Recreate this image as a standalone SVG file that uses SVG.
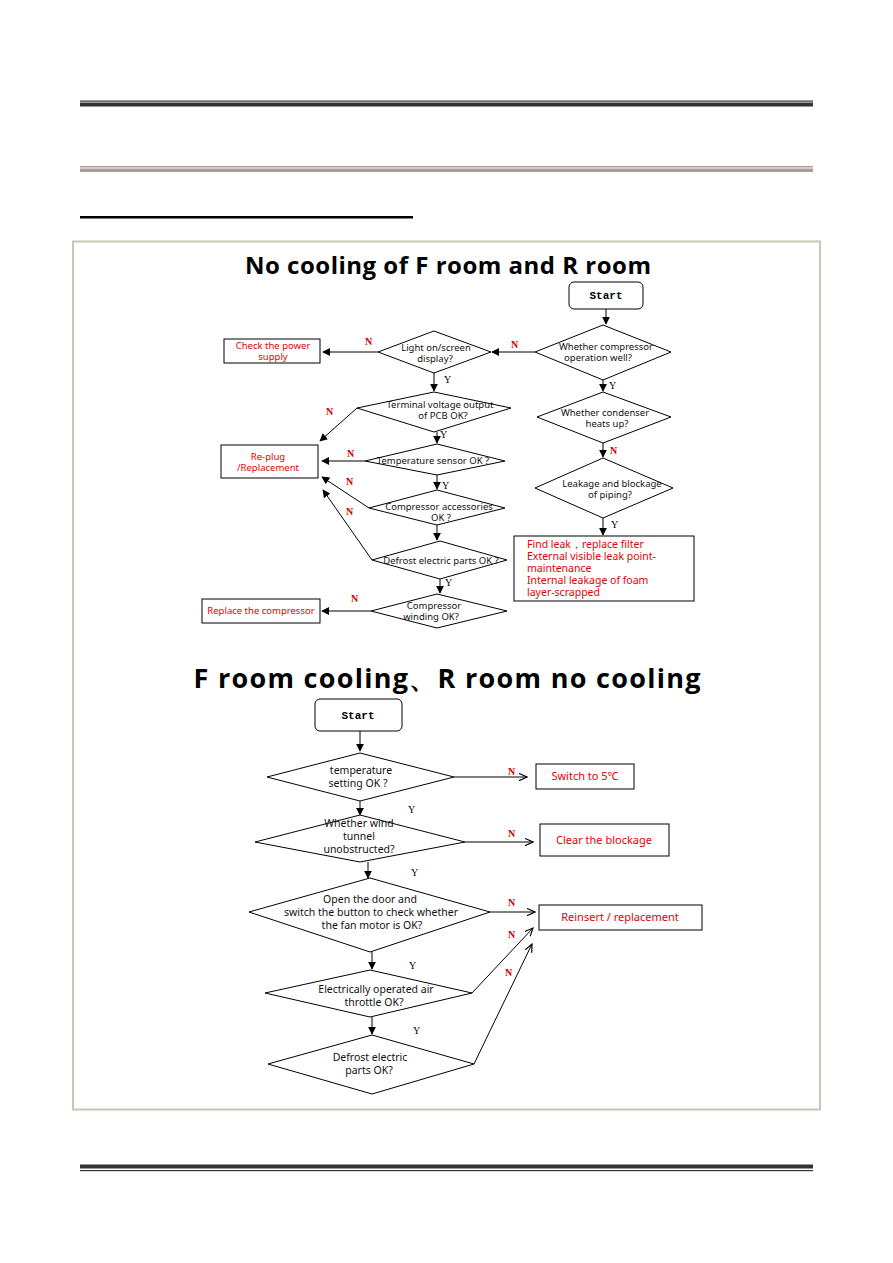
<svg xmlns="http://www.w3.org/2000/svg" width="893" height="1263" viewBox="0 0 893 1263">
<defs>
<marker id="ah" viewBox="0 0 10 10" refX="9" refY="5" markerWidth="8" markerHeight="8" markerUnits="userSpaceOnUse" orient="auto"><path d="M0,0 L10,5 L0,10 z" fill="#000"/></marker>
<marker id="ao" viewBox="0 0 10 10" refX="9" refY="5" markerWidth="9" markerHeight="9" markerUnits="userSpaceOnUse" orient="auto"><path d="M0,1 L9,5 L0,9" fill="none" stroke="#000" stroke-width="1.3"/></marker>
<style>
.sh{fill:#fff;stroke:#000;stroke-width:1}
.t{font-family:"Noto Sans","Open Sans",sans-serif;font-size:9.5px;fill:#111;text-anchor:middle}
.t2{font-family:"Noto Sans","Open Sans",sans-serif;font-size:10.5px;fill:#111;text-anchor:middle}
.r{font-family:"Noto Sans","Open Sans",sans-serif;font-size:9.5px;fill:#e30000;text-anchor:middle}
.rb{font-family:"Noto Sans","Open Sans",sans-serif;font-size:11px;fill:#e30000;text-anchor:middle}
.r2{font-family:"Noto Sans","Open Sans",sans-serif;font-size:10.5px;fill:#e30000}
.yn{font-family:"Liberation Serif",serif;font-size:10px;fill:#000}
.n{font-family:"Liberation Serif",serif;font-size:10px;fill:#d00000;font-weight:bold}
.st{font-family:"Liberation Mono",monospace;font-size:11px;font-weight:bold;fill:#000;text-anchor:middle}
.ttl{font-family:"Open Sans","Noto Sans",sans-serif;font-weight:bold;fill:#000;text-anchor:middle}
.c{fill:none;stroke:#000;stroke-width:1;marker-end:url(#ah)}
.co{fill:none;stroke:#000;stroke-width:1;marker-end:url(#ao)}
</style>
</defs>
<rect width="893" height="1263" fill="#fff"/>
<g id="page">
<rect x="80" y="100.5" width="733" height="1.2" fill="#333"/>
<rect x="80" y="102.5" width="733" height="4" fill="#333"/>
<rect x="80" y="166" width="733" height="1.5" fill="#a89c96"/>
<rect x="80" y="168.5" width="733" height="3.5" fill="#a89c96"/>
<rect x="80" y="216" width="333" height="2.5" fill="#000"/>
<rect x="73" y="241.5" width="747" height="868" fill="none" stroke="#c8c6b4" stroke-width="2"/>
<rect x="80" y="1164.5" width="733" height="4" fill="#333"/>
<rect x="80" y="1170" width="733" height="1.2" fill="#333"/>
</g>
<g id="title1"><text class="ttl" x="448" y="274" font-size="24" textLength="406" lengthAdjust="spacing">No cooling of F room and R room</text></g>
<g id="title2"><text class="ttl" x="447" y="688" font-size="27" textLength="507" lengthAdjust="spacing">F room cooling、R room no cooling</text></g>

<g id="connectors1">
<path class="c" d="M606,309 V324"/>
<path class="c" d="M535,352 H492"/>
<path class="c" d="M378,352 H323"/>
<path class="c" d="M434,373 V391"/>
<path class="c" d="M357,408 L320,441"/>
<path class="c" d="M437,432 V443"/>
<path class="c" d="M365,461 H322"/>
<path class="c" d="M437,475 V489"/>
<path class="c" d="M369,508 L322,477"/>
<path class="c" d="M437,525 V540"/>
<path class="c" d="M372,560 L323,490"/>
<path class="c" d="M440,579 V593"/>
<path class="c" d="M371,611 H322"/>
<path class="c" d="M603,380 V391"/>
<path class="c" d="M603,443 V457"/>
<path class="c" d="M603,518 V535"/>
</g>
<g id="labels1">
<text class="n" x="511" y="348">N</text>
<text class="n" x="365" y="345">N</text>
<text class="yn" x="444" y="383">Y</text>
<text class="n" x="326" y="415">N</text>
<text class="yn" x="440" y="438">Y</text>
<text class="n" x="347" y="457">N</text>
<text class="yn" x="442" y="489">Y</text>
<text class="n" x="346" y="485">N</text>
<text class="n" x="346" y="515">N</text>
<text class="yn" x="445" y="586">Y</text>
<text class="n" x="351" y="602">N</text>
<text class="yn" x="609" y="389">Y</text>
<text class="n" x="610" y="454">N</text>
<text class="yn" x="611" y="528">Y</text>
</g>

<g id="start1"><rect class="sh" x="569" y="282" width="74" height="27" rx="5"/><text class="st" x="606" y="299">Start</text></g>
<g id="d_compressor"><polygon class="sh" points="603,325 671,352 603,380 535,352"/><text class="t" x="606" y="350">Whether compressor</text><text class="t" x="598" y="361">operation well?</text></g>
<g id="d_light"><polygon class="sh" points="434,331 491,352 434,373 378,352"/><text class="t" x="436" y="351">Light on/screen</text><text class="t" x="435" y="362">display?</text></g>
<g id="b_power"><rect class="sh" x="224" y="339" width="96" height="24"/><text class="r" x="273" y="349">Check the power</text><text class="r" x="273" y="360">supply</text></g>
<g id="d_terminal"><polygon class="sh" points="434,392 511,408 434,432 357,408"/><text class="t" x="440" y="408">Terminal voltage output</text><text class="t" x="443" y="419">of PCB OK?</text></g>
<g id="d_tempsensor"><polygon class="sh" points="437,444 505,461 437,475 365,461"/><text class="t" x="433" y="464">Temperature  sensor OK ?</text></g>
<g id="b_replug"><rect class="sh" x="221" y="445" width="97" height="33"/><text class="r" x="268" y="460">Re-plug</text><text class="r" x="268" y="471">/Replacement</text></g>
<g id="d_compacc"><polygon class="sh" points="437,490 505,508 437,525 369,508"/><text class="t" x="439" y="510">Compressor  accessories</text><text class="t" x="441" y="521">OK ?</text></g>
<g id="d_defrost1"><polygon class="sh" points="440,541 507,560 440,579 372,560"/><text class="t" x="441" y="564">Defrost  electric parts OK ?</text></g>
<g id="d_winding"><polygon class="sh" points="437,594 507,611 437,628 371,611"/><text class="t" x="434" y="609">Compressor</text><text class="t" x="431" y="620">winding OK?</text></g>
<g id="b_replace"><rect class="sh" x="202" y="599" width="118" height="24"/><text class="r" x="261" y="614">Replace the compressor</text></g>
<g id="d_condenser"><polygon class="sh" points="603,392 671,417 603,443 537,417"/><text class="t" x="605" y="416">Whether condenser</text><text class="t" x="607" y="427">heats up?</text></g>
<g id="d_leakage"><polygon class="sh" points="603,458 673,488 603,518 535,488"/><text class="t" x="612" y="487">Leakage and blockage</text><text class="t" x="610" y="498">of piping?</text></g>
<g id="b_findleak"><rect class="sh" x="514" y="536" width="180" height="65"/>
<text class="r2" x="527" y="548">Find leak，replace filter</text>
<text class="r2" x="527" y="560">External visible leak point-</text>
<text class="r2" x="527" y="572">maintenance</text>
<text class="r2" x="527" y="584">Internal leakage of foam</text>
<text class="r2" x="527" y="596">layer-scrapped</text></g>

<g id="connectors2">
<path class="c" d="M360,731 V751"/>
<path class="co" d="M454,777 H527"/>
<path class="c" d="M360,801 V815"/>
<path class="co" d="M465,842 H533"/>
<path class="c" d="M368,862 V878"/>
<path class="co" d="M490,912 H535"/>
<path class="c" d="M372,952 V969"/>
<path class="co" d="M472,993 L533,928"/>
<path class="c" d="M372,1017 V1034"/>
<path class="co" d="M474,1064 L532,944"/>
</g>
<g id="labels2">
<text class="n" x="508" y="775">N</text>
<text class="yn" x="408" y="813">Y</text>
<text class="n" x="508" y="837">N</text>
<text class="yn" x="411" y="876">Y</text>
<text class="n" x="508" y="906">N</text>
<text class="yn" x="409" y="969">Y</text>
<text class="n" x="508" y="938">N</text>
<text class="yn" x="413" y="1034">Y</text>
<text class="n" x="505" y="976">N</text>
</g>
<g id="start2"><rect class="sh" x="315" y="699" width="87" height="32" rx="5"/><text class="st" x="358" y="719">Start</text></g>
<g id="d_tempset"><polygon class="sh" points="360,753 454,777 360,801 267,777"/><text class="t2" x="361" y="774">temperature</text><text class="t2" x="358" y="787">setting OK ?</text></g>
<g id="b_switch"><rect class="sh" x="536" y="764" width="98" height="25"/><text class="rb" x="585" y="780">Switch to 5℃</text></g>
<g id="d_wind"><polygon class="sh" points="360,815 465,842 360,862 255,842"/><text class="t2" x="359" y="827">Whether wind</text><text class="t2" x="359" y="840">tunnel</text><text class="t2" x="359" y="853">unobstructed?</text></g>
<g id="b_clear"><rect class="sh" x="540" y="824" width="129" height="32"/><text class="rb" x="604" y="844">Clear the blockage</text></g>
<g id="d_fan"><polygon class="sh" points="370,878 490,912 370,952 249,912"/><text class="t2" x="370" y="903">Open the door and</text><text class="t2" x="371" y="916">switch the button to check whether</text><text class="t2" x="372" y="929">the fan motor is OK?</text></g>
<g id="b_reinsert"><rect class="sh" x="539" y="905" width="163" height="25"/><text class="rb" x="620" y="921">Reinsert  / replacement</text></g>
<g id="d_throttle"><polygon class="sh" points="370,970 472,993 370,1017 265,993"/><text class="t2" x="376" y="993">Electrically operated  air</text><text class="t2" x="374" y="1006">throttle OK?</text></g>
<g id="d_defrost2"><polygon class="sh" points="372,1035 474,1064 372,1094 268,1064"/><text class="t2" x="370" y="1061">Defrost  electric</text><text class="t2" x="369" y="1074">parts OK?</text></g>
</svg>
